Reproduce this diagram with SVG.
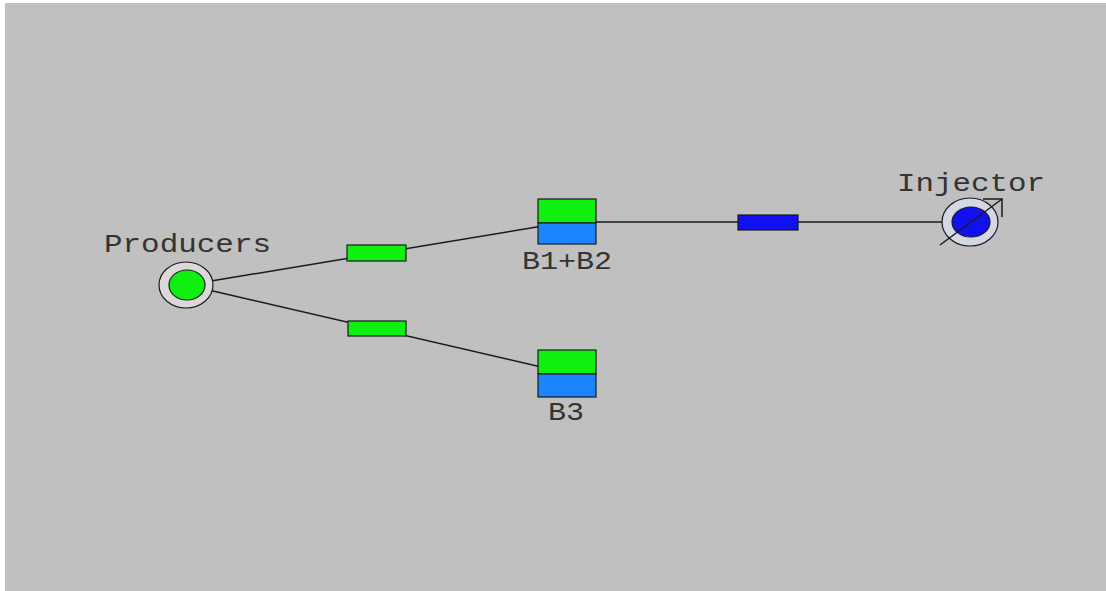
<svg xmlns="http://www.w3.org/2000/svg" width="1106" height="591" viewBox="0 0 1106 591">
  <style>
    .wire { stroke: #1a1a1a; stroke-width: 1.5; fill: none; }
    .edge { stroke: #1a1a1a; stroke-width: 1.2; }
    .lbl { font-family: "Liberation Mono", "Courier New", monospace; font-size: 26px; fill: #333333; text-anchor: middle; }
    .green { fill: #10f010; }
    .lblue { fill: #1a85ff; }
    .dblue { fill: #1010f0; }
  </style>

  <!-- canvas -->
  <rect x="0" y="0" width="1106" height="591" fill="#ffffff"/>
  <rect x="5" y="3" width="1101" height="588" fill="#c0c0c0"/>

  <!-- pipes -->
  <g id="connectors">
    <line class="wire" x1="187" y1="285" x2="567" y2="222"/>
    <line class="wire" x1="187" y1="285" x2="567" y2="373"/>
    <line class="wire" x1="567" y1="222" x2="970" y2="222"/>
  </g>

  <!-- pipe markers -->
  <g id="pipe-producers-b12">
    <rect class="green edge" x="347" y="245" width="59" height="16"/>
  </g>
  <g id="pipe-producers-b3">
    <rect class="green edge" x="348" y="321" width="58" height="15"/>
  </g>
  <g id="pipe-b12-injector">
    <rect class="dblue edge" x="738" y="215" width="60" height="15"/>
  </g>

  <!-- producer well -->
  <g id="producers">
    <ellipse cx="186" cy="285" rx="27" ry="23" fill="#dcd8d8" stroke="#1a1a1a" stroke-width="1.2"/>
    <ellipse class="green" cx="187" cy="285" rx="18" ry="15" stroke="#1a1a1a" stroke-width="1.2"/>
    <text class="lbl" x="187.5" y="252" textLength="167" lengthAdjust="spacingAndGlyphs">Producers</text>
  </g>

  <!-- block B1+B2 -->
  <g id="b1b2">
    <rect class="green edge" x="538" y="199" width="58" height="24"/>
    <rect class="lblue edge" x="538" y="223" width="58" height="21"/>
    <text class="lbl" x="567" y="269" textLength="90" lengthAdjust="spacingAndGlyphs">B1+B2</text>
  </g>

  <!-- block B3 -->
  <g id="b3">
    <rect class="green edge" x="538" y="350" width="58" height="24"/>
    <rect class="lblue edge" x="538" y="374" width="58" height="23"/>
    <text class="lbl" x="566" y="420" textLength="36" lengthAdjust="spacingAndGlyphs">B3</text>
  </g>

  <!-- injector well -->
  <g id="injector">
    <ellipse cx="970" cy="222" rx="28" ry="24" fill="#d4d8e6" stroke="#1a1a1a" stroke-width="1.2"/>
    <ellipse class="dblue" cx="971" cy="222" rx="19" ry="15" stroke="#1a1a1a" stroke-width="1.2"/>
    <line class="wire" x1="940" y1="245" x2="1002" y2="199" stroke-width="1.2"/>
    <polyline class="wire" points="983,199 1002,199 1002,217" stroke-width="1.4"/>
    <text class="lbl" x="971" y="191" textLength="148" lengthAdjust="spacingAndGlyphs">Injector</text>
  </g>
</svg>
